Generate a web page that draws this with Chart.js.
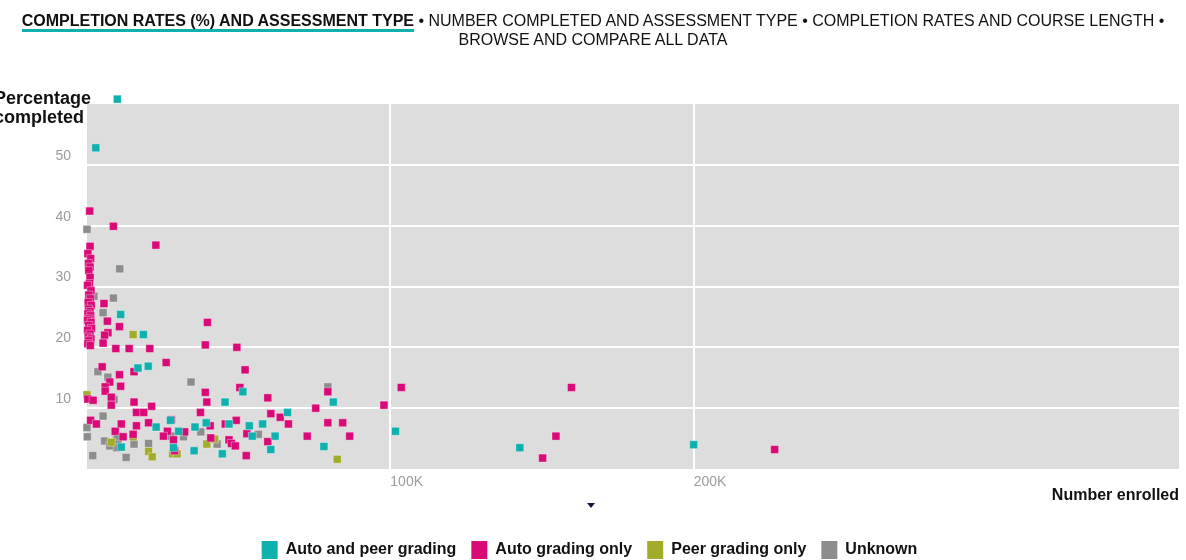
<!DOCTYPE html>
<html>
<head>
<meta charset="utf-8">
<script src="https://cdn.jsdelivr.net/npm/chart.js@4"></script>
<style>
  html, body { margin: 0; padding: 0; width: 1186px; height: 560px; overflow: hidden; background: #fff; font-family: "Liberation Sans", Arial, sans-serif; }
  #nav { position: absolute; top: 11px; left: 0; width: 1186px; text-align: center; font-size: 16px; line-height: 19px; color: #111; z-index: 2; }
  #nav b { border-bottom: 3px solid #10b0ae; }
  #wrap { position: absolute; left: 0; top: 0; width: 1186px; height: 569px; }
  #arrow { position: absolute; left: 587px; top: 503px; width: 0; height: 0; border-left: 4px solid transparent; border-right: 4px solid transparent; border-top: 5px solid #14143c; }
</style>
</head>
<body>
<div id="nav"><b>COMPLETION RATES (%) AND ASSESSMENT TYPE</b> &bull; NUMBER COMPLETED AND ASSESSMENT TYPE &bull; COMPLETION RATES AND COURSE LENGTH &bull;<br>BROWSE AND COMPARE ALL DATA</div>
<div id="wrap"><canvas id="chart" width="1186" height="569"></canvas></div>
<div id="arrow"></div>
<script>
// series names (legend)
var categories = ['Auto and peer grading', 'Auto grading only', 'Peer grading only', 'Unknown'];
var colors = ['#0fb1af', '#d90a77', '#a1ad2a', '#8d8d8d'];

// [number enrolled (thousands), percentage completed]
var autoPeer = [
  [10, 60.8], [2.9, 52.8], [11.1, 25.4], [18.6, 22.1], [20.2, 16.9], [16.8, 16.6], [45.5, 11.0],
  [22.8, 6.9], [27.5, 8.0], [30.2, 6.2], [35.6, 6.9], [39.3, 7.6], [46.8, 7.4], [11.3, 3.6],
  [28.5, 3.5], [35.3, 3.0], [44.6, 2.5], [51.4, 12.7], [66.1, 9.3], [57.9, 7.4], [53.5, 7.1],
  [54.5, 5.4], [62, 5.4], [60.6, 3.2], [81.2, 11.0], [78.1, 3.7], [101.7, 6.2], [142.7, 3.5], [200, 4.0]
];
var autoOnly = [
  [0.9, 42.4], [1.0, 36.6], [0.3, 35.4], [1.2, 34.6], [0.5, 33.8], [1.0, 33.2], [0.6, 32.6], [1.0, 31.5],
  [0.8, 30.5], [0.2, 30.2], [1.3, 29.3], [0.6, 28.6], [1.1, 28.0], [0.4, 27.4], [1.4, 26.9], [0.5, 26.3],
  [1.0, 25.9], [0.3, 25.5], [1.2, 25.2], [0.7, 24.7], [0.2, 24.4], [1.3, 24.1], [0.6, 23.6], [1.5, 23.1],
  [0.2, 22.8], [1.0, 22.2], [0.4, 21.7], [1.3, 21.4], [0.6, 21.1], [0.3, 20.6], [1.1, 20.3],
  [8.7, 39.9], [22.7, 36.8], [5.6, 27.2], [6.7, 24.3], [10.7, 23.4], [39.7, 24.1], [6.9, 22.4], [5.8, 22.0],
  [5.3, 20.7], [39.0, 20.4], [9.5, 19.8], [13.9, 19.8], [20.7, 19.8], [49.4, 20.0], [26.1, 17.5], [15.5, 16.0],
  [5.0, 16.8], [7.5, 14.3], [10.7, 15.5], [11.1, 13.6], [6.0, 13.5], [6.0, 12.8], [39.0, 12.6], [0.3, 11.5],
  [2.0, 11.3], [8.0, 11.8], [8.0, 10.5], [15.5, 11.0], [21.3, 10.3], [39.5, 11.0], [52.1, 16.3], [50.4, 13.4],
  [59.6, 11.7], [79.4, 12.7], [75.4, 10.0], [16.3, 9.3], [18.7, 9.3], [37.4, 9.3], [60.6, 9.1], [63.7, 8.5],
  [1.2, 8.0], [3.1, 7.4], [11.3, 7.4], [16.3, 7.1], [20.3, 7.6], [27.8, 8.1], [9.3, 6.2], [11.9, 5.3],
  [15.2, 5.7], [26.5, 6.2], [32.2, 6.1], [25.2, 5.4], [40.6, 7.1], [45.6, 7.4], [49.2, 8.0], [66.4, 7.4],
  [40.8, 5.1], [46.8, 4.8], [47.6, 4.2], [48.9, 3.8], [28.5, 4.8], [28.9, 3.0], [52.7, 5.8], [59.6, 4.5],
  [52.5, 2.2], [72.6, 5.4], [79.4, 7.6], [84.3, 7.6], [86.6, 5.4], [97.9, 10.5], [103.6, 13.4],
  [159.7, 13.4], [154.6, 5.4], [150.2, 1.8], [226.7, 3.2]
];
var peerOnly = [
  [0, 12.2], [15.2, 22.1], [15.2, 5.3], [8.0, 4.4], [28.2, 2.5], [29.7, 2.5], [20.3, 2.9],
  [21.5, 2.0], [39.5, 4.1], [42.1, 4.9], [82.5, 1.6]
];
var unknown = [
  [0, 39.4], [10.8, 32.9], [1.2, 29.2], [2.3, 28.4], [8.7, 28.1], [5.3, 25.7], [3.6, 16.0], [6.9, 15.1],
  [34.3, 14.3], [8.9, 11.4], [5.3, 8.7], [0, 6.8], [0.1, 5.3], [27.8, 5.4], [31.8, 5.3], [37.5, 6.1],
  [5.8, 4.6], [9.7, 4.9], [10.2, 4.2], [9.7, 3.5], [10.0, 5.4], [7.5, 3.8], [15.5, 4.1], [20.3, 4.2],
  [1.9, 2.2], [12.9, 1.9], [42.9, 4.1], [56.5, 5.7], [79.4, 13.5]
];

var xTicks = [100, 200];
var yTicks = [10, 20, 30, 40, 50];

var FONT = '"Liberation Sans", Arial, sans-serif';

function toPoints(arr) {
  return arr.map(function (p) { return { x: p[0], y: p[1] }; });
}

function makeSet(i, arr) {
  return {
    label: categories[i],
    data: toPoints(arr),
    backgroundColor: colors[i],
    borderColor: 'rgba(255,255,255,0.35)',
    borderWidth: 1,
    pointStyle: 'rect',
    pointRadius: 5.6,
    pointHoverRadius: 5.6,
    clip: false
  };
}

var plotBg = {
  id: 'plotBg',
  beforeDraw: function (c) {
    var a = c.chartArea, g = c.ctx;
    g.save();
    g.fillStyle = '#dddddd';
    g.fillRect(a.left, a.top, a.right - a.left, a.bottom - a.top);
    g.restore();
  },
  afterDraw: function (c) {
    var a = c.chartArea, g = c.ctx;
    g.save();
    g.fillStyle = '#111';
    g.textBaseline = 'middle';
    g.textAlign = 'left';
    g.font = 'bold 18px ' + FONT;
    g.fillText('Percentage', -6, 99);
    g.fillText('completed', -6, 118);
    g.textAlign = 'right';
    g.font = 'bold 16px ' + FONT;
    g.fillText('Number enrolled', a.right, 496);
    g.restore();
  }
};

var ctx = document.getElementById('chart').getContext('2d');
var chart = new Chart(ctx, {
  type: 'scatter',
  data: {
    datasets: [
      makeSet(0, autoPeer),
      makeSet(1, autoOnly),
      makeSet(2, peerOnly),
      makeSet(3, unknown)
    ]
  },
  plugins: [plotBg],
  options: {
    responsive: false,
    animation: false,
    layout: { padding: { top: 104, left: 0, right: 7, bottom: 0 } },
    scales: {
      x: {
        type: 'linear',
        min: 0,
        max: 360,
        afterFit: function (s) { s.height = 57; },
        afterBuildTicks: function (s) { s.ticks = xTicks.map(function (v) { return { value: v }; }); },
        grid: { color: '#ffffff', lineWidth: 2, drawTicks: false },
        border: { display: false },
        ticks: {
          align: 'start',
          padding: 5,
          maxRotation: 0,
          color: '#9b9b9b',
          font: { family: FONT, size: 14 },
          callback: function (v) { return v + 'K'; }
        }
      },
      y: {
        min: 0,
        max: 60,
        afterFit: function (s) { s.width = 87; },
        afterBuildTicks: function (s) { s.ticks = yTicks.map(function (v) { return { value: v }; }); },
        grid: { color: '#ffffff', lineWidth: 2, drawTicks: false },
        border: { display: false },
        ticks: {
          padding: 16,
          labelOffset: -9,
          color: '#9b9b9b',
          font: { family: FONT, size: 14 }
        }
      }
    },
    plugins: {
      tooltip: { enabled: false },
      legend: {
        position: 'bottom',
        labels: {
          boxWidth: 16,
          boxHeight: 18,
          padding: 15,
          color: '#111',
          font: { family: FONT, size: 16, weight: 'bold' },
          generateLabels: function (c) {
            var items = Chart.defaults.plugins.legend.labels.generateLabels(c);
            items.forEach(function (it) { it.lineWidth = 0; it.strokeStyle = 'rgba(0,0,0,0)'; });
            return items;
          }
        }
      }
    }
  }
});
</script>
</body>
</html>
